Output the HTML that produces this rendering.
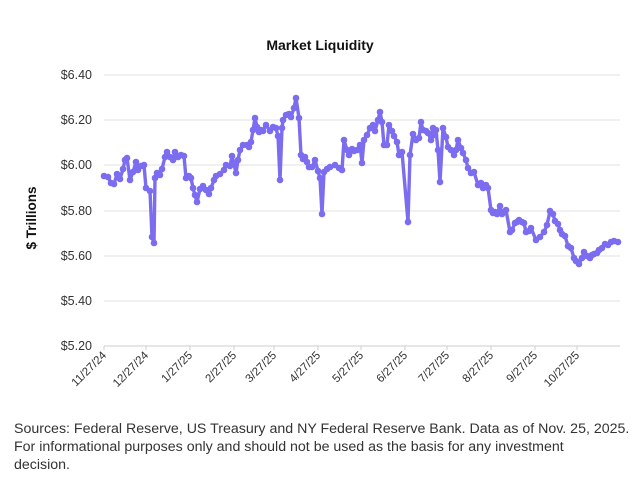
<!DOCTYPE html>
<html><head><meta charset="utf-8"><style>
body{margin:0;background:#fff;width:641px;height:478px;overflow:hidden;font-family:"Liberation Sans",sans-serif}
.foot{position:absolute;left:14px;top:420px;font-size:14.2px;line-height:18px;color:#333;white-space:nowrap}
</style></head><body>
<svg width="641" height="410" style="position:absolute;left:0;top:0" font-family="Liberation Sans, sans-serif">
<text x="320" y="50" text-anchor="middle" font-weight="bold" font-size="14" fill="#111">Market Liquidity</text>
<g stroke="#e2e2e2" stroke-width="1">
<line x1="104" x2="620" y1="75" y2="75"/><line x1="104" x2="620" y1="120" y2="120"/>
<line x1="104" x2="620" y1="165" y2="165"/><line x1="104" x2="620" y1="211" y2="211"/>
<line x1="104" x2="620" y1="256" y2="256"/><line x1="104" x2="620" y1="301" y2="301"/>
</g>
<line x1="104" x2="620" y1="346" y2="346" stroke="#ccc"/>
<g font-size="12.5" fill="#333" text-anchor="end">
<text x="92" y="79">$6.40</text><text x="92" y="124">$6.20</text><text x="92" y="169">$6.00</text>
<text x="92" y="215">$5.80</text><text x="92" y="260">$5.60</text><text x="92" y="305">$5.40</text><text x="92" y="350">$5.20</text>
</g>
<text transform="translate(36,218) rotate(-90)" text-anchor="middle" font-weight="bold" font-size="13.5" fill="#111">$ Trillions</text>
<g font-size="11.5" fill="#333" text-anchor="end">
<text transform="translate(107,356) rotate(-45)">11/27/24</text>
<text transform="translate(149,356) rotate(-45)">12/27/24</text>
<text transform="translate(193,356) rotate(-45)">1/27/25</text>
<text transform="translate(237,356) rotate(-45)">2/27/25</text>
<text transform="translate(277,356) rotate(-45)">3/27/25</text>
<text transform="translate(321,356) rotate(-45)">4/27/25</text>
<text transform="translate(364,356) rotate(-45)">5/27/25</text>
<text transform="translate(408,356) rotate(-45)">6/27/25</text>
<text transform="translate(450,356) rotate(-45)">7/27/25</text>
<text transform="translate(494,356) rotate(-45)">8/27/25</text>
<text transform="translate(538,356) rotate(-45)">9/27/25</text>
<text transform="translate(580,356) rotate(-45)">10/27/25</text>
</g>
<g stroke="#ccc"><line x1="104" x2="104" y1="346" y2="350"/><line x1="146" x2="146" y1="346" y2="350"/><line x1="190" x2="190" y1="346" y2="350"/><line x1="234" x2="234" y1="346" y2="350"/><line x1="274" x2="274" y1="346" y2="350"/><line x1="318" x2="318" y1="346" y2="350"/><line x1="361" x2="361" y1="346" y2="350"/><line x1="405" x2="405" y1="346" y2="350"/><line x1="447" x2="447" y1="346" y2="350"/><line x1="491" x2="491" y1="346" y2="350"/><line x1="535" x2="535" y1="346" y2="350"/><line x1="577" x2="577" y1="346" y2="350"/></g>
<polyline id="p" fill="none" stroke="#7b6cf0" stroke-width="3.4" stroke-linejoin="round" points=""/>
<g id="m" fill="#7b6cf0"></g>
</svg>
<script>
var pts=[[104,176],[108,177],[111,183],[114,184],[117,174],[120,179],[123,169],[125,160],[127,158],[130,180],[133,172],[136,162],[138,170],[141,166],[144,165],[146,188],[150,191],[152,237],[154,243],[155,178],[157,173],[160,175],[162,169],[165,157],[167,152],[170,157],[173,160],[175,152],[178,157],[181,155],[184,156],[186,178],[189,176],[191,178],[193,188],[195,195],[197,202],[200,189],[203,186],[206,190],[209,194],[211,188],[214,180],[216,176],[220,174],[224,170],[226,165],[230,166],[232,156],[234,164],[236,173],[238,160],[240,150],[243,145],[247,145],[249,147],[251,142],[253,130],[255,118],[257,127],[259,132],[261,130],[263,131],[266,125],[270,131],[273,127],[276,128],[278,136],[280,180],[282,128],[283,120],[286,115],[289,114],[291,117],[294,108],[296,98],[299,118],[301,155],[303,159],[305,157],[307,162],[309,167],[312,167],[315,160],[318,171],[320,178],[322,214],[324,172],[327,169],[330,167],[335,165],[339,168],[342,170],[344,140],[347,150],[349,155],[352,149],[354,151],[357,150],[360,145],[362,163],[364,140],[367,135],[370,128],[373,125],[375,131],[378,120],[380,112],[382,122],[384,145],[387,145],[389,125],[392,131],[394,136],[397,142],[399,155],[402,152],[408,222],[410,155],[413,134],[416,140],[419,138],[421,122],[423,130],[426,131],[428,133],[431,140],[433,128],[435,135],[436,130],[438,150],[440,182],[443,128],[446,137],[448,147],[451,150],[454,155],[456,150],[458,140],[461,148],[463,153],[466,160],[468,168],[471,173],[474,172],[478,185],[481,183],[483,188],[486,185],[488,188],[491,210],[493,213],[495,212],[497,214],[500,206],[502,214],[504,212],[506,210],[510,232],[512,230],[515,223],[517,222],[519,220],[522,222],[524,223],[526,232],[529,231],[531,228],[536,240],[540,237],[544,232],[547,225],[550,211],[553,214],[555,221],[558,224],[560,230],[562,234],[565,236],[568,246],[571,248],[574,258],[576,261],[579,264],[582,258],[584,252],[587,256],[590,258],[592,255],[594,254],[597,253],[599,250],[602,248],[605,244],[608,245],[611,242],[614,241],[618,242]];
document.getElementById('p').setAttribute('points',pts.map(function(p){return p.join(',')}).join(' '));
var g=document.getElementById('m'),h='';
pts.forEach(function(p){h+='<circle cx="'+p[0]+'" cy="'+p[1]+'" r="3.3"/>'});
g.innerHTML=h;
</script>
<div class="foot">Sources: Federal Reserve, US Treasury and NY Federal Reserve Bank. Data as of Nov. 25, 2025.<br>For informational purposes only and should not be used as the basis for any investment<br>decision.</div>
</body></html>
